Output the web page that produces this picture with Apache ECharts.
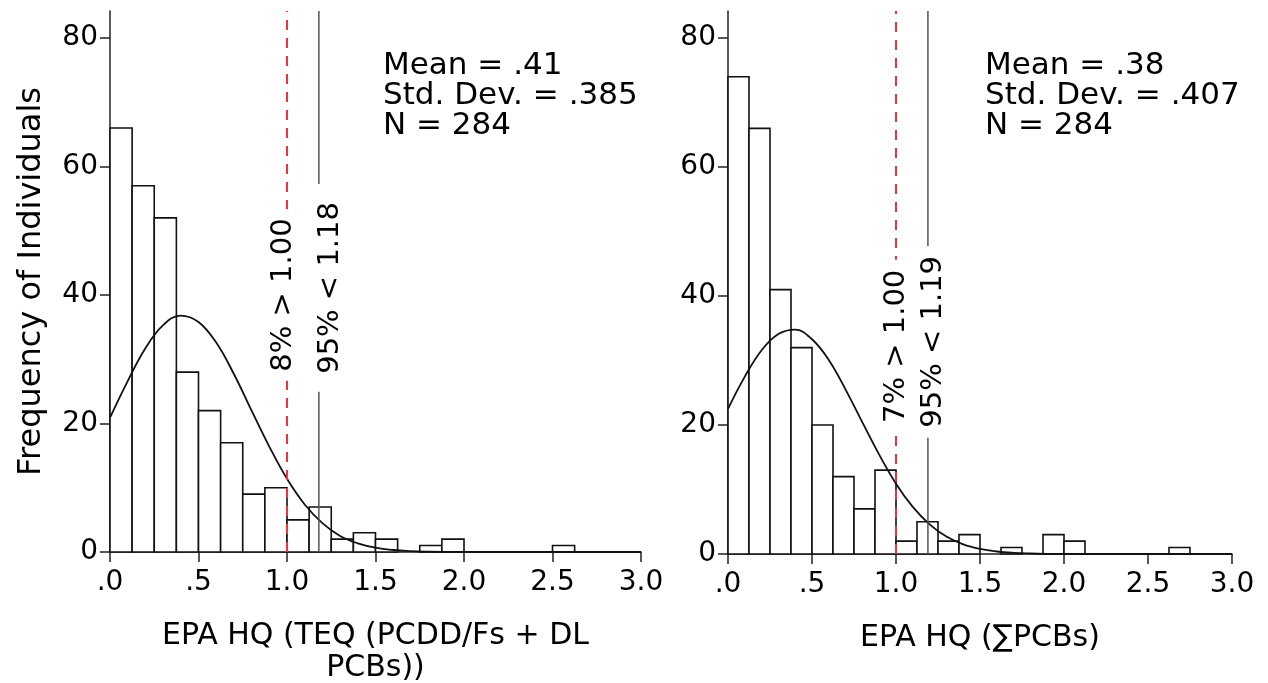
<!DOCTYPE html>
<html>
<head>
<meta charset="utf-8">
<script src="https://cdn.jsdelivr.net/npm/echarts@6/dist/echarts.min.js"></script>
<style>
html,body{margin:0;padding:0;background:#fff;}
#chart{width:1268px;height:683px;}
</style>
</head>
<body>
<div id="chart"></div>
<script>
// ---------- data ----------
const binWidth = 0.125;
const leftCounts  = [66, 57, 52, 28, 22, 17, 9, 10, 5, 7, 2, 3, 2, 0, 1, 2, 0, 0, 0, 0, 1];
const rightCounts = [74, 66, 41, 32, 20, 12, 7, 13, 2, 5, 2, 3, 0, 1, 0, 3, 2, 0, 0, 0, 0, 1];

const curveX = [0, 0.1, 0.2, 0.3, 0.4, 0.5, 0.6, 0.7, 0.8, 0.9, 1.0, 1.1, 1.2, 1.3, 1.4, 1.5,
                1.6, 1.7, 1.8, 1.9, 2.0, 2.1, 2.2, 2.3, 2.4, 2.5, 2.6, 2.7, 2.8, 2.9, 3.0];
const leftCurve  = [20.9, 26.6, 31.7, 35.3, 36.8, 35.8, 32.6, 27.7, 22.0, 16.4, 11.4, 7.4, 4.5, 2.5, 1.35, 0.67,
                    0.31, 0.13, 0.05, 0.02, 0.01, 0, 0, 0, 0, 0, 0, 0, 0, 0, 0];
const rightCurve = [22.5, 27.5, 31.6, 34.1, 34.8, 33.3, 30.1, 25.5, 20.4, 15.4, 10.9, 7.3, 4.6, 2.7, 1.5, 0.79,
                    0.39, 0.18, 0.08, 0.03, 0.01, 0, 0, 0, 0, 0, 0, 0, 0, 0, 0];

const leftRefValues  = [1.00, 1.18];
const leftRefLabels  = ['8% > 1.00', '95% < 1.18'];
const rightRefValues = [1.00, 1.19];
const rightRefLabels = ['7% > 1.00', '95% < 1.19'];

const statLabels      = ['Mean', 'Std. Dev.', 'N'];
const leftStatValues  = ['.41', '.385', '284'];
const rightStatValues = ['.38', '.407', '284'];

const xTickValues = [0, 0.5, 1.0, 1.5, 2.0, 2.5, 3.0];
const xTickLabels = ['.0', '.5', '1.0', '1.5', '2.0', '2.5', '3.0'];
const yTickValues = [0, 20, 40, 60, 80];

const leftXName  = 'EPA HQ (TEQ (PCDD/Fs + DL\nPCBs))';
const rightXName = 'EPA HQ (\u2211PCBs)';
const yName = 'Frequency of Individuals';

// ---------- styling ----------
const FONT = '"DejaVu Sans", "Noto Sans", sans-serif';
const YMAX = 84.2;
const refStyles = [
  {stroke: '#f0323c', lineDash: [10, 8], lineWidth: 2},
  {stroke: '#555555', lineDash: null, lineWidth: 1.5}
];
// label placement per panel/line: [labelY (data units), dx (px), pad (px)]
const leftRefPlace  = [[40.0, -4, 9], [41.1, 12, 18]];
const rightRefPlace = [[32.2, 0, 10], [32.9, 6, 10]];

function histData(counts) {
  const out = [];
  counts.forEach((c, i) => {
    if (c > 0) out.push([i * binWidth, (i + 1) * binWidth, c]);
  });
  return out;
}

function histSeries(idx, counts) {
  return {
    type: 'custom', xAxisIndex: idx, yAxisIndex: idx, z: 2,
    data: histData(counts),
    encode: {x: [0, 1], y: 2},
    renderItem: function (params, api) {
      const p0 = api.coord([api.value(0), api.value(2)]);
      const p1 = api.coord([api.value(1), 0]);
      return {
        type: 'rect',
        shape: {x: p0[0], y: p0[1], width: p1[0] - p0[0], height: p1[1] - p0[1]},
        style: {fill: '#ffffff', stroke: '#111111', lineWidth: 1.6}
      };
    }
  };
}

function curveSeries(idx, vals) {
  return {
    type: 'line', xAxisIndex: idx, yAxisIndex: idx, z: 3,
    data: curveX.map((x, i) => [x, vals[i]]),
    smooth: 0.4, showSymbol: false, symbol: 'none',
    lineStyle: {color: '#111', width: 1.8},
    clip: true, silent: true
  };
}

function refSeries(idx, values, labels, place) {
  return {
    type: 'custom', xAxisIndex: idx, yAxisIndex: idx, z: 4,
    data: values.map(v => [v, 0]),
    encode: {x: 0, y: 1},
    clip: false,
    renderItem: function (params, api) {
      const i = params.dataIndex;
      const x = values[i];
      const st = refStyles[i];
      const top = api.coord([x, YMAX]);
      const bot = api.coord([x, 0]);
      const c = api.coord([x, place[i][0]]);
      return {
        type: 'group',
        children: [
          {type: 'line', shape: {x1: bot[0], y1: bot[1], x2: top[0], y2: top[1]},
           style: {stroke: st.stroke, lineWidth: st.lineWidth, lineDash: st.lineDash}},
          {type: 'text', x: c[0] + place[i][1], y: c[1], rotation: Math.PI / 2,
           style: {text: labels[i], font: '29px ' + FONT, fill: '#000',
                   align: 'center', verticalAlign: 'middle',
                   backgroundColor: '#ffffff', padding: [0, place[i][2]]}}
        ]
      };
    }
  };
}

function xAxisCfg(idx, name) {
  return {
    type: 'value', gridIndex: idx, min: 0, max: 3, interval: 0.5,
    name: name, nameLocation: 'middle', nameGap: 68,
    nameTextStyle: {fontFamily: FONT, fontSize: 30, color: '#000', lineHeight: 32},
    axisLine: {show: true, onZero: false, lineStyle: {color: '#222', width: 1.5}},
    axisTick: {show: true, length: 10, lineStyle: {color: '#222', width: 1.5}},
    axisLabel: {margin: 17, fontFamily: FONT, fontSize: 28, color: '#000',
                formatter: v => { const k = xTickValues.indexOf(Math.round(v * 10) / 10); return k >= 0 ? xTickLabels[k] : ''; }},
    splitLine: {show: false}
  };
}

function yAxisCfg(idx, name) {
  return {
    type: 'value', gridIndex: idx, min: 0, max: YMAX, interval: 20,
    name: name || '', nameLocation: 'middle', nameGap: 62, nameRotate: 90,
    nameTextStyle: {fontFamily: FONT, fontSize: 32, color: '#000'},
    axisLine: {show: true, lineStyle: {color: '#222', width: 1.5}},
    axisTick: {show: true, length: 10, customValues: yTickValues, lineStyle: {color: '#222', width: 1.5}},
    axisLabel: {margin: 12, fontFamily: FONT, fontSize: 28, color: '#000', customValues: yTickValues},
    splitLine: {show: false}
  };
}

function statText(vals) {
  return statLabels.map((l, i) => l + ' = ' + vals[i]).join('\n');
}

const chart = echarts.init(document.getElementById('chart'), null, {renderer: 'canvas'});
chart.setOption({
  animation: false,
  backgroundColor: '#ffffff',
  grid: [
    {left: 110, right: 627, top: 11, bottom: 131, outerBoundsMode: 'none', containLabel: false},
    {left: 728, right: 36, top: 11, bottom: 129, outerBoundsMode: 'none', containLabel: false}
  ],
  xAxis: [xAxisCfg(0, leftXName), xAxisCfg(1, rightXName)],
  yAxis: [yAxisCfg(0, yName), yAxisCfg(1, '')],
  series: [
    histSeries(0, leftCounts), curveSeries(0, leftCurve), refSeries(0, leftRefValues, leftRefLabels, leftRefPlace),
    histSeries(1, rightCounts), curveSeries(1, rightCurve), refSeries(1, rightRefValues, rightRefLabels, rightRefPlace)
  ],
  graphic: [
    {type: 'text', left: 383, top: 50, z: 10,
     style: {text: statText(leftStatValues), font: '31px ' + FONT, lineHeight: 30, fill: '#000'}},
    {type: 'text', left: 985, top: 50, z: 10,
     style: {text: statText(rightStatValues), font: '31px ' + FONT, lineHeight: 30, fill: '#000'}}
  ]
});
</script>
</body>
</html>
